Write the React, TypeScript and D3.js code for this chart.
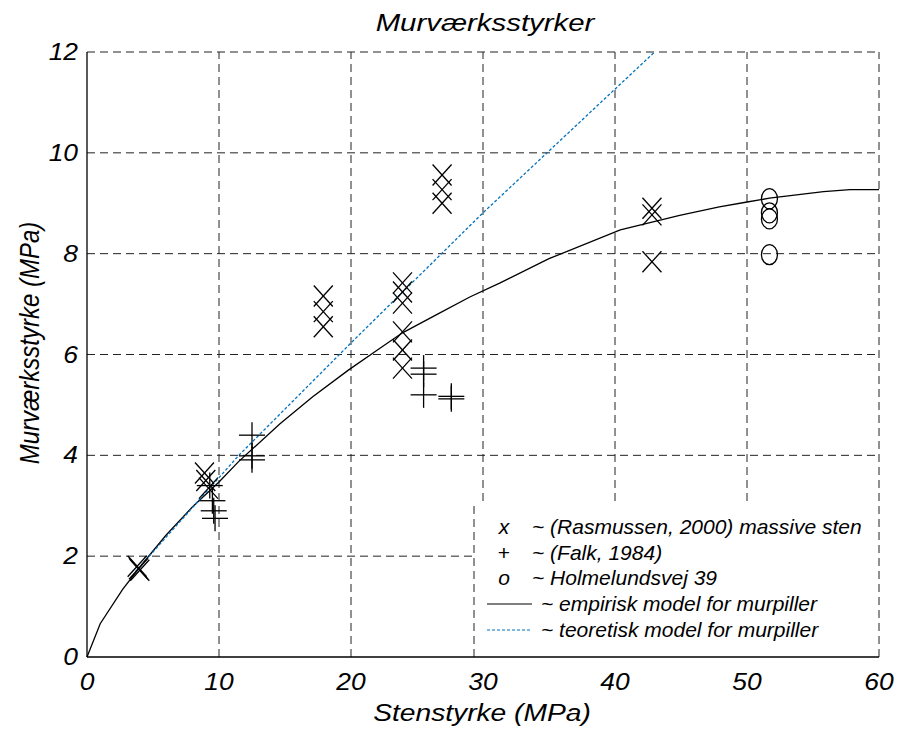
import React from "react";
import * as d3 from "d3";

const xTicks = [0, 10, 20, 30, 40, 50, 60];
const yTicks = [0, 2, 4, 6, 8, 10, 12];

const rasX = [3.8, 3.9, 4.0, 8.9, 9.0, 9.2, 17.9, 17.9, 17.9, 23.9, 23.9, 23.9, 23.9, 23.9, 23.9, 26.9, 26.9, 26.9, 42.8, 42.8, 42.8];
const rasY = [1.8, 1.75, 1.72, 3.65, 3.5, 3.35, 7.16, 6.85, 6.55, 7.42, 7.24, 7.02, 6.45, 6.09, 5.73, 9.56, 9.27, 9.0, 8.9, 8.77, 7.84];

const falkX = [9.3, 9.5, 9.6, 9.7, 12.5, 12.5, 12.5, 25.5, 25.5, 25.5, 27.6, 27.6];
const falkY = [3.4, 3.1, 2.9, 2.75, 4.4, 3.99, 3.91, 5.73, 5.61, 5.2, 5.17, 5.12];

const holX = [51.7, 51.7, 51.7, 51.7];
const holY = [9.09, 8.81, 8.69, 7.98];

const empX = [0, 1, 2.7, 4.2, 6, 8, 10, 11.5, 14.6, 17.1, 19.8, 22, 23.9, 26.7, 29, 31.3, 35, 40.4, 44.9, 47.9, 49.9, 51.7, 55.8, 57.8, 60];
const empY = [0, 0.66, 1.34, 1.85, 2.42, 2.98, 3.47, 3.88, 4.62, 5.16, 5.69, 6.09, 6.43, 6.82, 7.14, 7.42, 7.9, 8.47, 8.76, 8.93, 9.02, 9.1, 9.23, 9.27, 9.27];

const teoX = [3.7, 11.5, 20, 30, 43];
const teoY = [1.7, 4.0, 6.23, 8.81, 12];

const legendLabels = [
  "~ (Rasmussen, 2000) massive sten",
  "~ (Falk, 1984)",
  "~ Holmelundsvej 39",
  "~ empirisk model for murpiller",
  "~ teoretisk model for murpiller",
];
const legendSymbols = ["x", "+", "o", "", ""];

const W = 902;
const H = 729;
const L = 87, R = 879, T = 52, B = 657;
const FONT = "'Liberation Sans', Arial, sans-serif";
const BLUE = "#0072BD";

export default function App() {
  const x = d3.scaleLinear().domain([0, 60]).range([L, R]);
  const y = d3.scaleLinear().domain([0, 12]).range([B, T]);
  const mk = d3.line<[number, number]>().x(d => x(d[0])).y(d => y(d[1]));
  const emp = mk(empX.map((v, i) => [v, empY[i]]));
  const teo = mk(teoX.map((v, i) => [v, teoY[i]]));

  const gridColor = "#222";
  const legL = 474, legT = 506;
  const rowY = [527, 553, 578, 604, 630];

  return (
    <svg width={W} height={H} style={{ position: "absolute", left: 0, top: 0, background: "#fff" }} fontFamily={FONT}>
      <rect x={0} y={0} width={W} height={H} fill="#fff" />
      {xTicks.filter(t => t > 0).map(t => (
        <line key={"gx" + t} x1={x(t)} x2={x(t)} y1={B} y2={T} stroke={gridColor} strokeWidth={1} strokeDasharray="8,5" />
      ))}
      {yTicks.filter(t => t > 0).map(t => (
        <line key={"gy" + t} x1={L} x2={R} y1={y(t)} y2={y(t)} stroke={gridColor} strokeWidth={1} strokeDasharray="8,5" />
      ))}
      <path d={emp || ""} fill="none" stroke="#000" strokeWidth={1.3} />
      <path d={teo || ""} fill="none" stroke={BLUE} strokeWidth={1.3} strokeDasharray="3,2" />
      {rasX.map((v, i) => {
        const cx = x(v), cy = y(rasY[i]);
        return (
          <g key={"r" + i} stroke="#000" strokeWidth={1.3}>
            <line x1={cx - 9.5} y1={cy - 10.5} x2={cx + 9.5} y2={cy + 10.5} />
            <line x1={cx - 9.5} y1={cy + 10.5} x2={cx + 9.5} y2={cy - 10.5} />
          </g>
        );
      })}
      {falkX.map((v, i) => {
        const cx = x(v), cy = y(falkY[i]);
        return (
          <g key={"f" + i} stroke="#000" strokeWidth={1.3}>
            <line x1={cx - 13} y1={cy} x2={cx + 13} y2={cy} />
            <line x1={cx} y1={cy - 13} x2={cx} y2={cy + 13} />
          </g>
        );
      })}
      {holX.map((v, i) => (
        <ellipse key={"h" + i} cx={x(v)} cy={y(holY[i])} rx={8} ry={10} fill="none" stroke="#000" strokeWidth={1.3} />
      ))}
      {/* legend */}
      <rect x={legL} y={legT} width={R - legL - 1} height={B - legT} fill="#fff" />
      <line x1={legL} x2={legL} y1={legT} y2={B} stroke={gridColor} strokeWidth={1} strokeDasharray="8,5" />
      {legendLabels.map((lab, i) => (
        <g key={"l" + i}>
          {legendSymbols[i] ? (
            <text x={504} y={rowY[i] + 7} fontSize={21} fontStyle={i === 1 ? "normal" : "italic"} textAnchor="middle">{legendSymbols[i]}</text>
          ) : (
            <line x1={487} x2={532} y1={rowY[i]} y2={rowY[i]} stroke={i === 3 ? "#000" : BLUE} strokeWidth={1.2} strokeDasharray={i === 3 ? undefined : "3,2"} />
          )}
          <text x={i < 3 ? 532 : 541} y={rowY[i] + 7} fontSize={21} fontStyle="italic">{lab}</text>
        </g>
      ))}
      <line x1={L} x2={L} y1={T} y2={B} stroke="#000" strokeWidth={1.3} />
      <line x1={L} x2={R} y1={B} y2={B} stroke="#000" strokeWidth={1.3} />
      {xTicks.map(t => (
        <text key={"xt" + t} transform={`translate(${x(t)}, 690) scale(1.1,1)`} fontSize={24} fontStyle="italic" textAnchor="middle">{t}</text>
      ))}
      {yTicks.map(t => (
        <text key={"yt" + t} transform={`translate(78, ${y(t) + 8}) scale(1.1,1)`} fontSize={24} fontStyle="italic" textAnchor="end">{t}</text>
      ))}
      <text transform={`translate(485, 31) scale(1.2,1)`} fontSize={24.5} fontStyle="italic" textAnchor="middle">Murværksstyrker</text>
      <text transform={`translate(482, 721) scale(1.2,1)`} fontSize={23.5} fontStyle="italic" textAnchor="middle">Stenstyrke (MPa)</text>
      <text transform={`translate(39, 343) rotate(-90) scale(1,1.15)`} fontSize={24} fontStyle="italic" textAnchor="middle">Murværksstyrke (MPa)</text>
    </svg>
  );
}
